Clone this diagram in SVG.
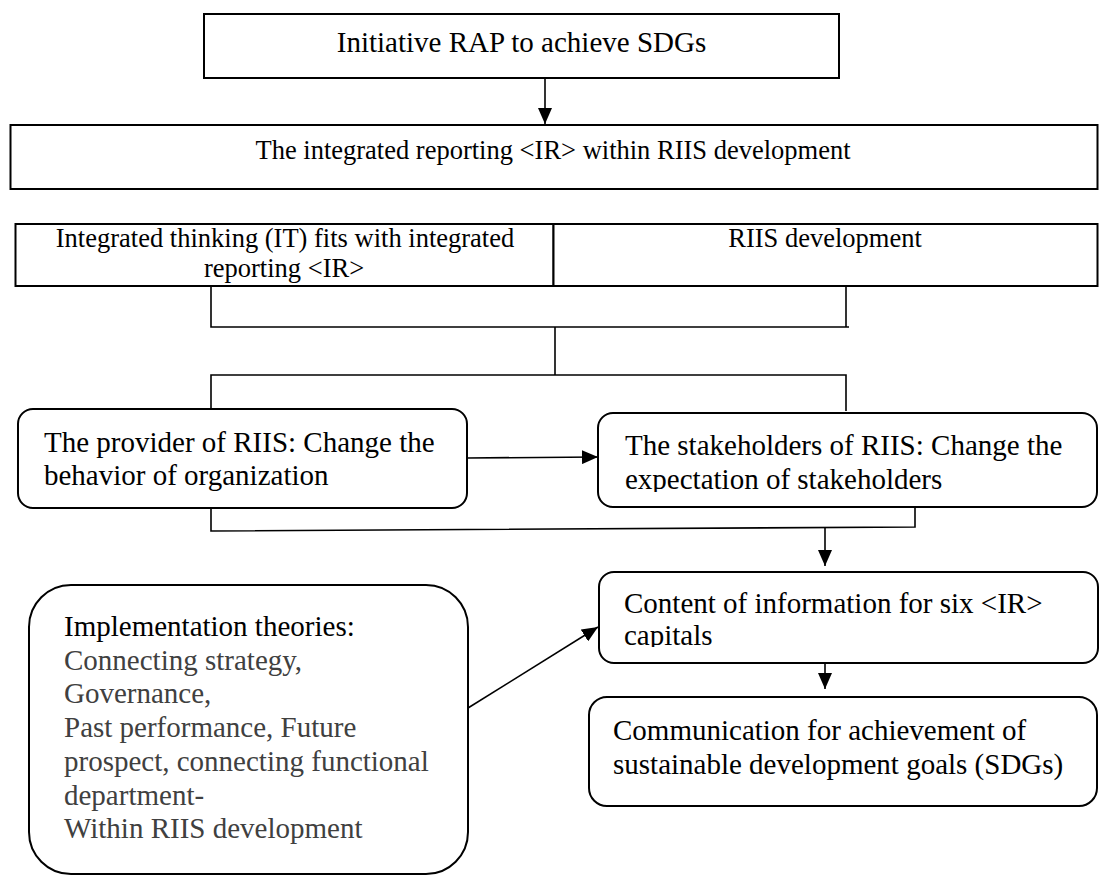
<svg xmlns="http://www.w3.org/2000/svg" width="1099" height="876" viewBox="0 0 1099 876" font-family="'Liberation Serif', 'Times New Roman', 'DejaVu Serif', serif">
<style>
  .box { fill: #ffffff; stroke: #000000; stroke-width: 2; }
  text { font-family: 'Liberation Serif', 'Times New Roman', 'DejaVu Serif', serif; fill: #000000; }
  .big { font-size: 29px; }
  .mid { font-size: 26.5px; }
  .gray { fill: #404040; }
  .conn { fill: none; stroke: #000000; stroke-width: 1.6; }
  .arr { fill: none; stroke: #000000; stroke-width: 1.6; marker-end: url(#ah); }
</style>
<defs>
  <marker id="ah" markerUnits="userSpaceOnUse" markerWidth="17" markerHeight="14" refX="16" refY="7" orient="auto">
    <path d="M0,0 L16,7 L0,14 z" fill="#000000"/>
  </marker>
  <clipPath id="clipStake"><rect x="598" y="413" width="500" height="79"/></clipPath>
  <clipPath id="clipContent"><rect x="599" y="572" width="499" height="75"/></clipPath>
</defs>
<rect width="1099" height="876" fill="#ffffff"/>

<g id="connectors">
  <path class="arr" d="M545,78 V124"/>
  <path class="conn" d="M211,286 V327 H849"/>
  <path class="conn" d="M846,286 V327"/>
  <path class="conn" d="M555,327 V375"/>
  <path class="conn" d="M211,409 V375 H846 V411"/>
  <path class="arr" d="M467,458 L598,457"/>
  <path class="conn" d="M211,508 V531 L915,527 V507"/>
  <path class="arr" d="M825,527 V566"/>
  <path class="arr" d="M825,663 V689"/>
  <path class="arr" d="M468,708 L598,627"/>
</g>

<g id="node-initiative">
  <rect class="box" x="204" y="14" width="635" height="64"/>
  <text class="big" x="521.5" y="52" text-anchor="middle" font-family="Liberation Serif, serif">Initiative RAP to achieve SDGs</text>
</g>

<g id="node-ir">
  <rect class="box" x="10.5" y="125" width="1087" height="64"/>
  <text class="mid" x="553" y="159" text-anchor="middle" font-family="Liberation Serif, serif">The integrated reporting &lt;IR&gt; within RIIS development</text>
</g>

<g id="node-it">
  <rect class="box" x="15.5" y="224" width="538" height="62"/>
  <text class="mid" x="285" y="247" text-anchor="middle" font-family="Liberation Serif, serif">Integrated thinking (IT) fits with integrated</text>
  <text class="mid" x="284" y="277" text-anchor="middle" font-family="Liberation Serif, serif">reporting &lt;IR&gt;</text>
</g>

<g id="node-riis">
  <rect class="box" x="553.5" y="224" width="544" height="62"/>
  <text class="mid" x="825" y="247" text-anchor="middle" font-family="Liberation Serif, serif">RIIS development</text>
</g>

<g id="node-provider">
  <rect class="box" x="18" y="409" width="449" height="99" rx="15" ry="15"/>
  <text class="big" x="44" y="452" font-family="Liberation Serif, serif">The provider of RIIS: Change the</text>
  <text class="big" x="44" y="485" font-family="Liberation Serif, serif">behavior of organization</text>
</g>

<g id="node-stakeholders">
  <rect class="box" x="598" y="413" width="499" height="94" rx="15" ry="15"/>
  <g clip-path="url(#clipStake)">
    <text class="big" x="625" y="455" font-family="Liberation Serif, serif">The stakeholders of RIIS: Change the</text>
    <text class="big" x="625" y="489" font-family="Liberation Serif, serif">expectation of stakeholders</text>
  </g>
</g>

<g id="node-content">
  <rect class="box" x="599" y="572" width="499" height="91" rx="15" ry="15"/>
  <g clip-path="url(#clipContent)">
    <text class="big" x="624" y="613" font-family="Liberation Serif, serif">Content of information for six &lt;IR&gt;</text>
    <text class="big" x="624" y="645" font-family="Liberation Serif, serif">capitals</text>
  </g>
</g>

<g id="node-communication">
  <rect class="box" x="589" y="697" width="508" height="109" rx="18" ry="18"/>
  <text class="big" x="613" y="740" font-family="Liberation Serif, serif">Communication for achievement of</text>
  <text class="big" x="613" y="774" font-family="Liberation Serif, serif">sustainable development goals (SDGs)</text>
</g>

<g id="node-implementation">
  <rect class="box" x="29" y="585" width="439" height="289" rx="42" ry="42"/>
  <text class="big" x="64" y="636" font-family="Liberation Serif, serif">Implementation theories:</text>
  <text class="big gray" x="64" y="670" font-family="Liberation Serif, serif">Connecting strategy,</text>
  <text class="big gray" x="64" y="703" font-family="Liberation Serif, serif">Governance,</text>
  <text class="big gray" x="64" y="737" font-family="Liberation Serif, serif">Past performance, Future</text>
  <text class="big gray" x="64" y="771" font-family="Liberation Serif, serif">prospect, connecting functional</text>
  <text class="big gray" x="64" y="805" font-family="Liberation Serif, serif">department-</text>
  <text class="big gray" x="64" y="838" font-family="Liberation Serif, serif">Within RIIS development</text>
</g>
</svg>
